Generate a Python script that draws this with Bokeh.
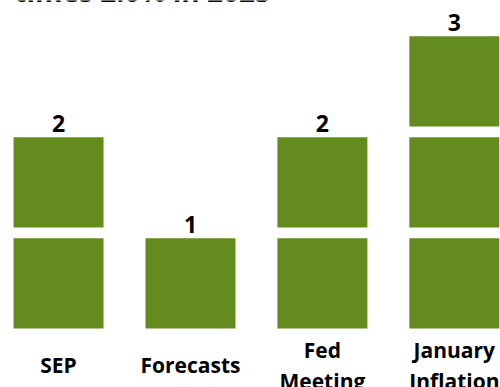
from bokeh.plotting import figure
from bokeh.models import Range1d, ColumnDataSource
from bokeh.core.properties import value
from bokeh.embed import file_html
from bokeh.resources import INLINE

categories = ["SEP", "Forecasts", "Fed\nMeeting", "January\nInflation"]
counts = [2, 1, 2, 3]
title_text = "times 2.0% in 2025"

GREEN = "#648B1E"
FONT = "Open Sans"

p = figure(width=500, height=387, output_backend="svg", toolbar_location=None,
           x_range=Range1d(-0.44, 3.35), y_range=Range1d(-0.53, 3.30),
           min_border=0, outline_line_color=None)
p.axis.visible = False
p.xgrid.visible = False
p.ygrid.visible = False
p.background_fill_color = "white"
p.border_fill_color = "white"

half_w = 0.341
gap = 0.054
lefts, rights, bottoms, tops = [], [], [], []
for i, c in enumerate(counts):
    for k in range(c):
        lefts.append(i - half_w)
        rights.append(i + half_w)
        bottoms.append(k + gap)
        tops.append(k + 1 - gap)
p.quad(left=lefts, right=rights, bottom=bottoms, top=tops,
       fill_color=GREEN, line_color=None)

xs = list(range(len(categories)))
src = ColumnDataSource(dict(x=xs, y=counts, t=[str(c) for c in counts]))
p.text(x="x", y="y", text="t", source=src, text_align="center",
       text_baseline="alphabetic", text_font=value(FONT), text_font_style="bold",
       text_font_size="23px", text_color="black", y_offset=-8)

csrc = ColumnDataSource(dict(x=xs, y=[-0.312] * len(xs), t=categories))
p.text(x="x", y="y", text="t", source=csrc, text_align="center",
       text_baseline="middle", text_font=value(FONT), text_font_style="bold",
       text_font_size="21px", text_color="black", text_line_height=1.12)

p.text(x=[-0.335], y=[3.262], text=[title_text], text_align="left",
       text_baseline="alphabetic", text_font=value(FONT), text_font_style="bold",
       text_font_size="28px", text_color="black", y_offset=-13)

open("out.html", "w").write(file_html(p, INLINE))
